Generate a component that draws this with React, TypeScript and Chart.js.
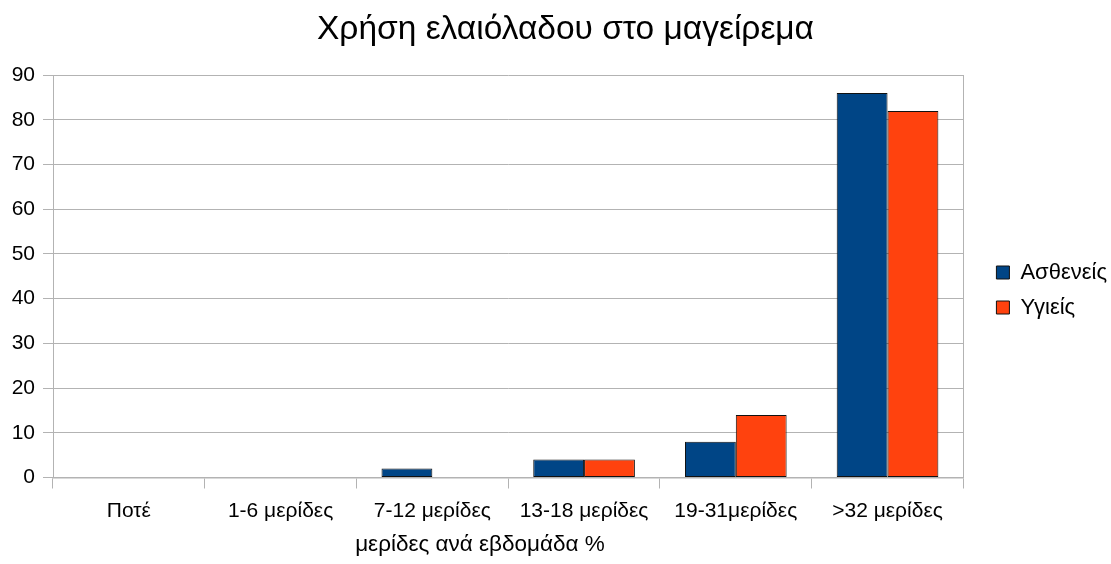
import React, { useEffect, useRef } from 'react';
import { Chart, registerables } from 'chart.js';

Chart.register(...registerables);

// Portion categories (servings per week)
const categories = ['Ποτέ', '1-6 μερίδες', '7-12 μερίδες', '13-18 μερίδες', '19-31μερίδες', '>32 μερίδες'];

// Percentage of respondents per group
const patients = [0, 0, 2, 4, 8, 86];
const healthy = [0, 0, 0, 4, 14, 82];

const seriesNames = ['Ασθενείς', 'Υγιείς'];
const chartTitle = 'Χρήση ελαιόλαδου στο μαγείρεμα';
const xAxisTitle = 'μερίδες ανά εβδομάδα %';

const yMin = 0;
const yMax = 90;
const yStep = 10;

const FONT = '"Liberation Sans", Arial, sans-serif';
const GRID = '#b3b3b3';

// Fine placement of the title, the axis caption (drawn as a bottom subtitle) and the legend
const blockShift = {
  id: 'blockShift',
  afterLayout(chart: any) {
    const t = chart.titleBlock;
    if (t) t.left += 14;
    const s = (chart.boxes || []).find(
      (b: any) => b !== t && !b.axis && b.position === 'bottom' && b.options && b.options.text === xAxisTitle
    );
    if (s) s.right -= 157;
    const l = chart.legend;
    if (l) {
      l.top += 9;
      l.bottom += 9;
    }
  },
};

export default function App() {
  const canvasRef = useRef<HTMLCanvasElement | null>(null);

  useEffect(() => {
    if (!canvasRef.current) return;
    const chart = new Chart(canvasRef.current, {
      type: 'bar',
      data: {
        labels: categories,
        datasets: [
          {
            label: seriesNames[0],
            data: patients,
            backgroundColor: '#004586',
            borderColor: '#111111',
            borderWidth: 1,
            borderSkipped: false,
            clip: 4,
          },
          {
            label: seriesNames[1],
            data: healthy,
            backgroundColor: '#ff420e',
            borderColor: '#111111',
            borderWidth: 1,
            borderSkipped: false,
            clip: 4,
          },
        ],
      },
      options: {
        animation: false,
        responsive: true,
        maintainAspectRatio: false,
        layout: { padding: { left: 0, right: 0, top: 6, bottom: 8 } },
        datasets: {
          bar: { barPercentage: 1, categoryPercentage: 0.67 },
        },
        plugins: {
          title: {
            display: true,
            text: chartTitle,
            color: '#000',
            font: { family: FONT, size: 33.5, weight: 'normal' },
            padding: { top: 4, bottom: 25 },
          },
          subtitle: {
            display: true,
            position: 'bottom',
            text: xAxisTitle,
            color: '#000',
            font: { family: FONT, size: 22.5, weight: 'normal', lineHeight: 1 },
            padding: { top: 0, bottom: 0 },
          },
          legend: {
            position: 'right',
            labels: {
              color: '#000',
              font: { family: FONT, size: 22 },
              boxWidth: 13,
              boxHeight: 13,
              padding: 13,
            },
          },
          tooltip: { enabled: false },
        },
        scales: {
          x: {
            offset: true,
            grid: {
              offset: true,
              drawOnChartArea: false,
              drawTicks: true,
              tickLength: 11,
              color: GRID,
            },
            border: { display: true, color: GRID, width: 1.5 },
            ticks: {
              color: '#000',
              font: { family: FONT, size: 21, lineHeight: 1 },
              padding: 12,
              maxRotation: 0,
              autoSkip: false,
            },
          },
          y: {
            min: yMin,
            max: yMax,
            ticks: {
              stepSize: yStep,
              color: '#000',
              font: { family: FONT, size: 21 },
              padding: 8,
            },
            grid: {
              color: GRID,
              drawTicks: true,
              tickLength: 10,
            },
            border: { display: true, color: GRID },
            afterFit(scale: any) {
              scale.width = 53;
            },
          },
          // right-hand frame of the plot area, also spacing before the legend
          frame: {
            type: 'linear',
            position: 'right',
            display: true,
            ticks: { display: false },
            grid: { display: true, drawOnChartArea: false, drawTicks: false },
            border: { display: true, color: GRID },
            afterFit(scale: any) {
              scale.width = 20;
            },
          },
        },
      },
      plugins: [blockShift],
    });
    return () => chart.destroy();
  }, []);

  return (
    <div style={{ position: 'fixed', left: 0, top: 0, width: 1111, height: 564, overflow: 'hidden', background: '#fff' }}>
      <div style={{ position: 'relative', width: 1117, height: 564 }}>
        <canvas ref={canvasRef} />
      </div>
    </div>
  );
}
